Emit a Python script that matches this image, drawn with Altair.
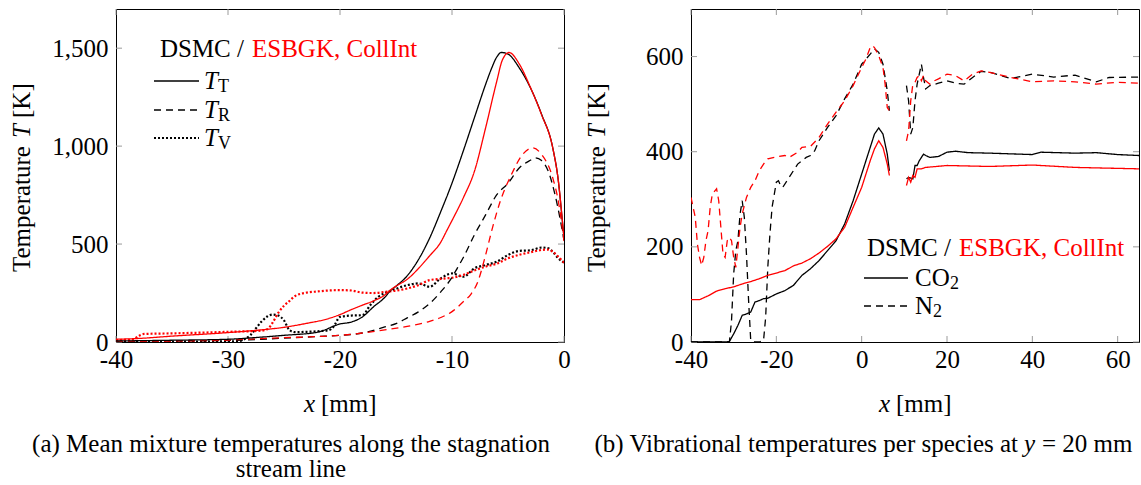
import altair as alt
import pandas as pd

FONT = "'Liberation Serif', 'DejaVu Serif', serif"
FS = 25
W, H = 448, 333

# ---------------- Left panel (a): mean mixture temperatures ----------------
tt_dsmc_x = [-40, -35, -30, -27, -25, -22, -20, -19, -18, -17, -16, -15.5, -15, -14, -13, -12, -11, -10, -9, -8, -7, -6.5, -6, -5.6, -5, -4, -3, -2, -1, -0.5, -0.2, 0]
tt_dsmc_y = [5, 9, 14, 25, 34, 50, 92, 102, 128, 180, 228, 262, 285, 338, 420, 530, 666, 811, 974, 1145, 1315, 1392, 1455, 1478, 1470, 1400, 1298, 1162, 990, 820, 650, 535]
tt_esb_x = [-40, -38, -35, -30, -27, -25, -23, -21, -20, -19, -18, -17, -16, -15.5, -15, -14, -13, -12, -11, -10.5, -10, -9, -8, -7, -6, -5.5, -4.9, -4, -3, -2, -1, -0.5, 0]
tt_esb_y = [14, 18, 30, 48, 62, 75, 95, 120, 140, 165, 188, 210, 240, 265, 285, 320, 375, 440, 510, 565, 620, 735, 871, 1093, 1332, 1440, 1478, 1420, 1300, 1160, 990, 820, 525]
tr_dsmc_x = [-40, -35, -30, -27, -25, -22, -20, -18, -16, -15, -14, -13, -12, -11, -10, -9.5, -9, -8, -7, -6, -5, -4, -3, -2.6, -2, -1.4, -0.8, 0]
tr_dsmc_y = [3, 5, 8, 14, 20, 28, 34, 46, 77, 94, 123, 154, 196, 256, 330, 380, 430, 547, 649, 752, 810, 888, 928, 940, 926, 871, 752, 520]
tr_esb_x = [-40, -35, -30, -28, -25, -22, -20, -18, -16, -14, -12, -11, -10, -9, -8.3, -7.7, -7, -6.4, -5.7, -4.7, -3.7, -2.8, -2, -1, -0.5, 0]
tr_esb_y = [3, 5, 10, 15, 22, 28, 34, 46, 62, 80, 105, 125, 155, 205, 245, 307, 444, 580, 717, 854, 957, 991, 957, 837, 717, 515]
tv_dsmc_x = [-40, -35, -30, -29, -28.5, -28, -27.5, -27, -26.5, -26, -25.5, -25, -24.5, -24, -23, -22, -21, -20.6, -20, -19, -18, -17.3, -16.6, -16, -15.3, -14, -13, -12, -11, -10, -9, -8, -7, -6, -5, -4, -3, -2, -1.5, -1, -0.5, 0]
tv_dsmc_y = [2, 2, 3, 5, 15, 35, 70, 105, 130, 140, 135, 110, 60, 50, 52, 55, 60, 77, 128, 135, 137, 188, 230, 250, 265, 290, 299, 282, 325, 350, 333, 376, 393, 410, 444, 465, 468, 482, 480, 461, 427, 405]
tv_esb_x = [-40, -38.5, -38, -37.5, -35, -30, -27, -26.5, -26, -25.5, -25, -24.5, -24, -23, -22, -21, -20, -19, -18, -17, -16, -15, -14, -13, -12, -11, -10.5, -10, -9, -8, -7, -6, -5, -4, -3, -2, -1.5, -1, -0.5, 0]
tv_esb_y = [10, 12, 30, 41, 44, 52, 58, 65, 100, 150, 185, 210, 235, 252, 258, 263, 265, 263, 252, 250, 256, 262, 273, 290, 316, 322, 325, 328, 342, 365, 385, 400, 427, 445, 458, 470, 472, 461, 435, 405]

left_xticks = [-40, -30, -20, -10, 0]
left_yticks = [0, 500, 1000, 1500]

# ---------------- Right panel (b): vibrational temperatures ----------------
co2_esb_x1 = [-40, -38, -36, -34, -32, -30, -28, -26, -24, -22, -20, -18, -16, -14, -12, -10, -8, -6, -4, -2, 0, 2, 3, 4, 5, 6, 6.5]
co2_esb_y1 = [89, 89, 97, 107, 112, 116, 122, 127, 133, 140, 145, 150, 160, 166, 175, 187, 201, 217, 241, 283, 325, 381, 406, 423, 409, 374, 350]
co2_esb_x2 = [10.5, 11, 11.5, 12, 12.5, 13, 14, 15, 20, 30, 40, 50, 60, 65]
co2_esb_y2 = [329, 346, 336, 350, 346, 364, 364, 367, 371, 369, 372, 367, 365, 364]
co2_dsmc_x1 = [-40, -32, -31, -30, -29, -28, -27, -26, -25, -24, -23, -22, -20, -18, -16, -14, -12, -10, -8, -6, -4, -2, 0, 2, 3, 4, 5, 6, 6.5]
co2_dsmc_y1 = [0, 0, 1, 17, 35, 56, 59, 63, 84, 87, 91, 92, 101, 108, 119, 140, 154, 171, 192, 213, 248, 297, 353, 409, 437, 450, 437, 395, 360]
co2_dsmc_x2 = [10.5, 11, 12, 12.5, 13, 13.5, 14.5, 15, 16, 18, 20, 22, 25, 30, 40, 42, 50, 55, 60, 65]
co2_dsmc_y2 = [343, 346, 343, 371, 371, 381, 395, 392, 388, 390, 399, 401, 398, 397, 394, 399, 397, 398, 394, 392]
n2_esb_x1 = [-40, -39, -38.5, -38, -37.5, -37, -36.5, -36, -35.5, -35, -34, -33.5, -33, -32.5, -32, -31.5, -31, -30.5, -30, -29.5, -29, -28.5, -28, -27, -26, -25, -24, -23, -22, -20, -18, -17, -15, -14, -12, -10, -8, -6, -4, -2, 0, 1, 2, 2.5, 3, 4, 5, 5.5, 6, 6.5]
n2_esb_y1 = [304, 262, 206, 178, 161, 178, 213, 234, 283, 311, 322, 297, 241, 185, 178, 213, 220, 213, 178, 157, 199, 241, 269, 304, 325, 339, 360, 374, 385, 389, 392, 388, 399, 409, 411, 430, 458, 483, 507, 539, 577, 595, 619, 623, 619, 602, 577, 542, 493, 486]
n2_esb_x2 = [10.5, 11, 11.5, 12, 12.5, 13, 13.5, 14, 14.5, 15, 16, 17, 18, 20, 22, 24, 26, 28, 30, 35, 40, 45, 50, 55, 60, 65]
n2_esb_y2 = [423, 444, 507, 542, 546, 556, 560, 549, 560, 549, 542, 549, 553, 563, 560, 549, 563, 570, 567, 556, 547, 549, 547, 542, 546, 544]
n2_dsmc_x1 = [-40, -31, -30.5, -30, -29.5, -29, -28.5, -28, -27.5, -27, -26.5, -26, -25, -24, -23, -22.5, -22, -21.5, -21, -20, -19.5, -19, -18.5, -17, -15, -13, -12, -11, -10, -8, -6, -4, -2, 0, 2, 3, 4, 5, 6, 6.5]
n2_dsmc_y1 = [0, 0, 45, 143, 192, 213, 269, 297, 262, 185, 87, 3, 0, 0, 3, 52, 157, 227, 283, 336, 339, 329, 325, 346, 374, 388, 392, 402, 423, 451, 476, 511, 542, 584, 605, 616, 609, 584, 528, 486]
n2_dsmc_x2 = [10.5, 11, 11.5, 12, 12.5, 13, 13.5, 14, 14.5, 15, 16, 18, 20, 22, 24, 26, 28, 30, 35, 40, 45, 50, 55, 58, 65]
n2_dsmc_y2 = [539, 507, 437, 451, 507, 542, 563, 584, 556, 532, 539, 544, 549, 544, 542, 556, 569, 567, 554, 563, 557, 561, 547, 556, 557]

right_xticks = [-40, -20, 0, 20, 40, 60]
right_yticks = [0, 200, 400, 600]

methods = ["DSMC", "ESBGK"]
colors = ["#000000", "#ff0000"]
one = pd.DataFrame({"d": [0]})


def frame(pairs):
    rows = []
    for method, part, xs, ys in pairs:
        for i, (a, b) in enumerate(zip(xs, ys)):
            rows.append({"x": a, "T": b, "method": method, "part": part, "i": i})
    return pd.DataFrame(rows)


def make_axes(xticks, yticks, ylabel_expr):
    xaxis = alt.Axis(values=xticks, title=None, ticks=False, domain=False, grid=False,
                     labelFont=FONT, labelFontSize=FS, labelColor="#000000", labelPadding=5,
                     labelFlush=False, labelOverlap=False, labelExpr="'' + datum.value")
    yaxis = alt.Axis(values=yticks, title=None, ticks=False, domain=False, grid=False,
                     labelFont=FONT, labelFontSize=FS, labelColor="#000000", labelPadding=8,
                     labelFlush=False, labelOverlap=False, labelExpr=ylabel_expr)
    return xaxis, yaxis


def lines(df, xs, ys, xaxis, yaxis, dash, width, interp):
    return alt.Chart(df).mark_line(strokeDash=dash, strokeWidth=width, interpolate=interp, clip=True).encode(
        x=alt.X("x:Q", scale=xs, axis=xaxis),
        y=alt.Y("T:Q", scale=ys, axis=yaxis),
        color=alt.Color("method:N", scale=alt.Scale(domain=methods, range=colors), legend=None),
        detail="part:N",
        order="i:Q",
    )


def txt(s, x, y, size=FS, color="#000000", align="left", style="normal", angle=0):
    return alt.Chart(one).mark_text(
        text=s, align=align, baseline="middle", font=FONT, fontSize=size,
        fontStyle=style, color=color, angle=angle
    ).encode(x=alt.value(x), y=alt.value(y))


def tick_layers(xticks, yticks, xs, ys, xaxis, yaxis):
    xdf = pd.DataFrame({"x": xticks})
    ydf = pd.DataFrame({"T": yticks})
    tc = "#9a9a9a"
    return [
        alt.Chart(xdf).mark_rule(color=tc, strokeWidth=1).encode(
            x=alt.X("x:Q", scale=xs, axis=xaxis), y=alt.value(H), y2=alt.value(H - 6)),
        alt.Chart(xdf).mark_rule(color=tc, strokeWidth=1).encode(
            x=alt.X("x:Q", scale=xs, axis=xaxis), y=alt.value(0), y2=alt.value(6)),
        alt.Chart(ydf).mark_rule(color=tc, strokeWidth=1).encode(
            y=alt.Y("T:Q", scale=ys, axis=yaxis), x=alt.value(0), x2=alt.value(6)),
        alt.Chart(ydf).mark_rule(color=tc, strokeWidth=1).encode(
            y=alt.Y("T:Q", scale=ys, axis=yaxis), x=alt.value(W - 6), x2=alt.value(W)),
    ]


def titles():
    y0 = 263
    return [
        txt("Temperature", -94, y0, angle=270),
        txt("T", -94, y0 - 134, style="italic", angle=270),
        txt("[K]", -94, y0 - 154, angle=270),
        txt("x", 188, 395, style="italic"),
        txt("[mm]", 205, 395),
    ]


# ---- left chart ----
xs_l = alt.Scale(domain=[-40, 0], nice=False, zero=False)
ys_l = alt.Scale(domain=[0, 1700], nice=False, zero=False)
xa_l, ya_l = make_axes(left_xticks, left_yticks, "format(datum.value, ',')")

df_tt = frame([("DSMC", "a", tt_dsmc_x, tt_dsmc_y), ("ESBGK", "b", tt_esb_x, tt_esb_y)])
df_tr = frame([("DSMC", "a", tr_dsmc_x, tr_dsmc_y), ("ESBGK", "b", tr_esb_x, tr_esb_y)])
df_tv = frame([("DSMC", "a", tv_dsmc_x, tv_dsmc_y), ("ESBGK", "b", tv_esb_x, tv_esb_y)])

left_layers = tick_layers(left_xticks, left_yticks, xs_l, ys_l, xa_l, ya_l) + [
    lines(df_tv, xs_l, ys_l, xa_l, ya_l, [2, 2], 2.2, "monotone"),
    lines(df_tr, xs_l, ys_l, xa_l, ya_l, [7, 5], 1.3, "monotone"),
    lines(df_tt, xs_l, ys_l, xa_l, ya_l, [1, 0], 1.3, "monotone"),
    # legend
    txt("DSMC /", 128, 40, align="right"),
    txt("ESBGK, CollInt", 136, 40, color="#ff0000"),
    alt.Chart(one).mark_rule(color="#000000", strokeWidth=1.3).encode(x=alt.value(38), x2=alt.value(83), y=alt.value(72)),
    alt.Chart(one).mark_rule(color="#000000", strokeWidth=1.3, strokeDash=[7, 5]).encode(x=alt.value(38), x2=alt.value(83), y=alt.value(101)),
    alt.Chart(one).mark_rule(color="#000000", strokeWidth=2.2, strokeDash=[2, 2]).encode(x=alt.value(38), x2=alt.value(83), y=alt.value(129)),
    txt("T", 88, 72, style="italic"), txt("T", 102, 78, size=18),
    txt("T", 88, 101, style="italic"), txt("R", 102, 107, size=18),
    txt("T", 88, 129, style="italic"), txt("V", 102, 135, size=18),
    # caption
    txt("(a) Mean mixture temperatures along the stagnation", 175, 435, align="center"),
    txt("stream line", 175, 460, align="center"),
] + titles()

left = alt.layer(*left_layers).properties(width=W, height=H)

# ---- right chart ----
xs_r = alt.Scale(domain=[-40, 65], nice=False, zero=False)
ys_r = alt.Scale(domain=[0, 700], nice=False, zero=False)
xa_r, ya_r = make_axes(right_xticks, right_yticks, "'' + datum.value")

df_co2 = frame([("DSMC", "a1", co2_dsmc_x1, co2_dsmc_y1), ("DSMC", "a2", co2_dsmc_x2, co2_dsmc_y2),
                ("ESBGK", "b1", co2_esb_x1, co2_esb_y1), ("ESBGK", "b2", co2_esb_x2, co2_esb_y2)])
df_n2 = frame([("DSMC", "a1", n2_dsmc_x1, n2_dsmc_y1), ("DSMC", "a2", n2_dsmc_x2, n2_dsmc_y2),
               ("ESBGK", "b1", n2_esb_x1, n2_esb_y1), ("ESBGK", "b2", n2_esb_x2, n2_esb_y2)])

right_layers = tick_layers(right_xticks, right_yticks, xs_r, ys_r, xa_r, ya_r) + [
    lines(df_n2, xs_r, ys_r, xa_r, ya_r, [7, 5], 1.3, "linear"),
    lines(df_co2, xs_r, ys_r, xa_r, ya_r, [1, 0], 1.3, "linear"),
    txt("DSMC /", 260, 239, align="right"),
    txt("ESBGK, CollInt", 268, 239, color="#ff0000"),
    alt.Chart(one).mark_rule(color="#000000", strokeWidth=1.3).encode(x=alt.value(173), x2=alt.value(217), y=alt.value(269)),
    alt.Chart(one).mark_rule(color="#000000", strokeWidth=1.3, strokeDash=[7, 5]).encode(x=alt.value(173), x2=alt.value(217), y=alt.value(297)),
    txt("CO", 224, 269), txt("2", 259, 275, size=18),
    txt("N", 224, 297), txt("2", 242, 303, size=18),
    txt("(b) Vibrational temperatures per species at", 327, 435, align="right"),
    txt("y", 333, 435, style="italic"),
    txt("= 20 mm", 351, 435),
] + titles()

right = alt.layer(*right_layers).properties(width=W, height=H)

chart = alt.hconcat(left, right, spacing=127, bounds="flush").configure_view(
    stroke="#000000", strokeWidth=1
).properties(padding={"left": 9, "top": 8, "right": 0, "bottom": 0})

chart.save("out.html", embed_options={"renderer": "svg", "actions": False})
